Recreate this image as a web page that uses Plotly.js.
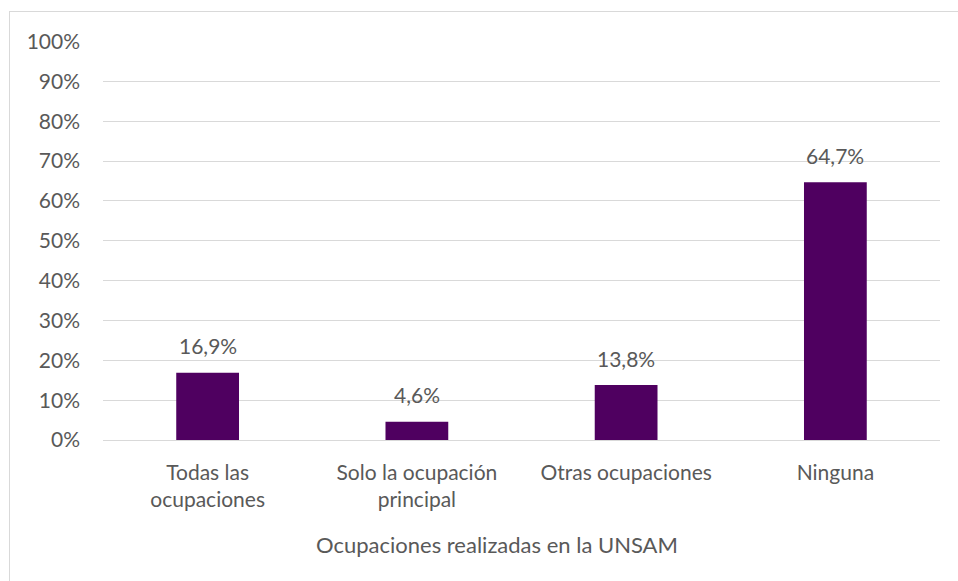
<!DOCTYPE html>
<html>
<head>
<meta charset="utf-8">
<script src="https://cdn.plot.ly/plotly-3.0.1.min.js"></script>
<style>
  html, body { margin: 0; padding: 0; background: #fff; }
  #wrap { position: relative; width: 958px; height: 581px; }
  #chart { position: absolute; left: 0; top: 0; width: 958px; height: 581px; }
  #frame { position: absolute; left: 9px; top: 11px; right: 0; bottom: 0;
           border-left: 1px solid #d9d9d9; border-top: 1px solid #d9d9d9; pointer-events: none; }
</style>
</head>
<body>
<div id="wrap">
  <div id="chart"></div>
  <div id="frame"></div>
</div>
<script>
const categories = ["Todas las<br>ocupaciones", "Solo la ocupación<br>principal", "Otras ocupaciones", "Ninguna"];
const values = [16.9, 4.6, 13.8, 64.7];
const yTickVals = [0, 10, 20, 30, 40, 50, 60, 70, 80, 90, 100];
const yTickText = ["0%", "10%", "20%", "30%", "40%", "50%", "60%", "70%", "80%", "90%", "100%"];
const axisTitle = "Ocupaciones realizadas en la UNSAM";

const textColor = "#595959";
const fontFam = "Lato, 'Open Sans', sans-serif";

const trace = {
  type: "bar",
  x: categories,
  y: values,
  marker: { color: "#4f0060" },
  hoverinfo: "skip"
};

const labelAnns = values.map((v, i) => ({
  x: categories[i], y: v, xref: "x", yref: "y",
  text: v.toFixed(1).replace(".", ",") + "%",
  showarrow: false, yanchor: "middle", yshift: 27,
  font: { family: fontFam, size: 21, color: textColor }
}));

const layout = {
  width: 958, height: 581,
  margin: { l: 103, r: 18, t: 41, b: 141 },
  paper_bgcolor: "rgba(0,0,0,0)",
  plot_bgcolor: "rgba(0,0,0,0)",
  bargap: 0.7,
  showlegend: false,
  separators: ",.",
  font: { family: fontFam, size: 21, color: textColor },
  xaxis: {
    type: "category",
    showgrid: false, zeroline: false, showline: false,
    ticks: "", tickfont: { family: fontFam, size: 21, color: textColor },
    ticklabelstandoff: 18
  },
  yaxis: {
    range: [0, 100.15], tickmode: "array", tickvals: yTickVals, ticktext: yTickText,
    showgrid: true, gridcolor: "#d9d9d9", gridwidth: 1,
    zeroline: true, zerolinecolor: "#d9d9d9", zerolinewidth: 1,
    showline: false, ticks: "",
    tickfont: { family: fontFam, size: 21, color: textColor },
    ticklabelstandoff: 22
  },
  annotations: labelAnns.concat([{
    text: axisTitle, xref: "paper", yref: "paper",
    x: (497 - 103) / 837, y: -0.263, xanchor: "center", yanchor: "middle",
    showarrow: false,
    font: { family: fontFam, size: 22, color: textColor }
  }])
};

Plotly.newPlot("chart", [trace], layout, { displayModeBar: false, staticPlot: true });
</script>
</body>
</html>
